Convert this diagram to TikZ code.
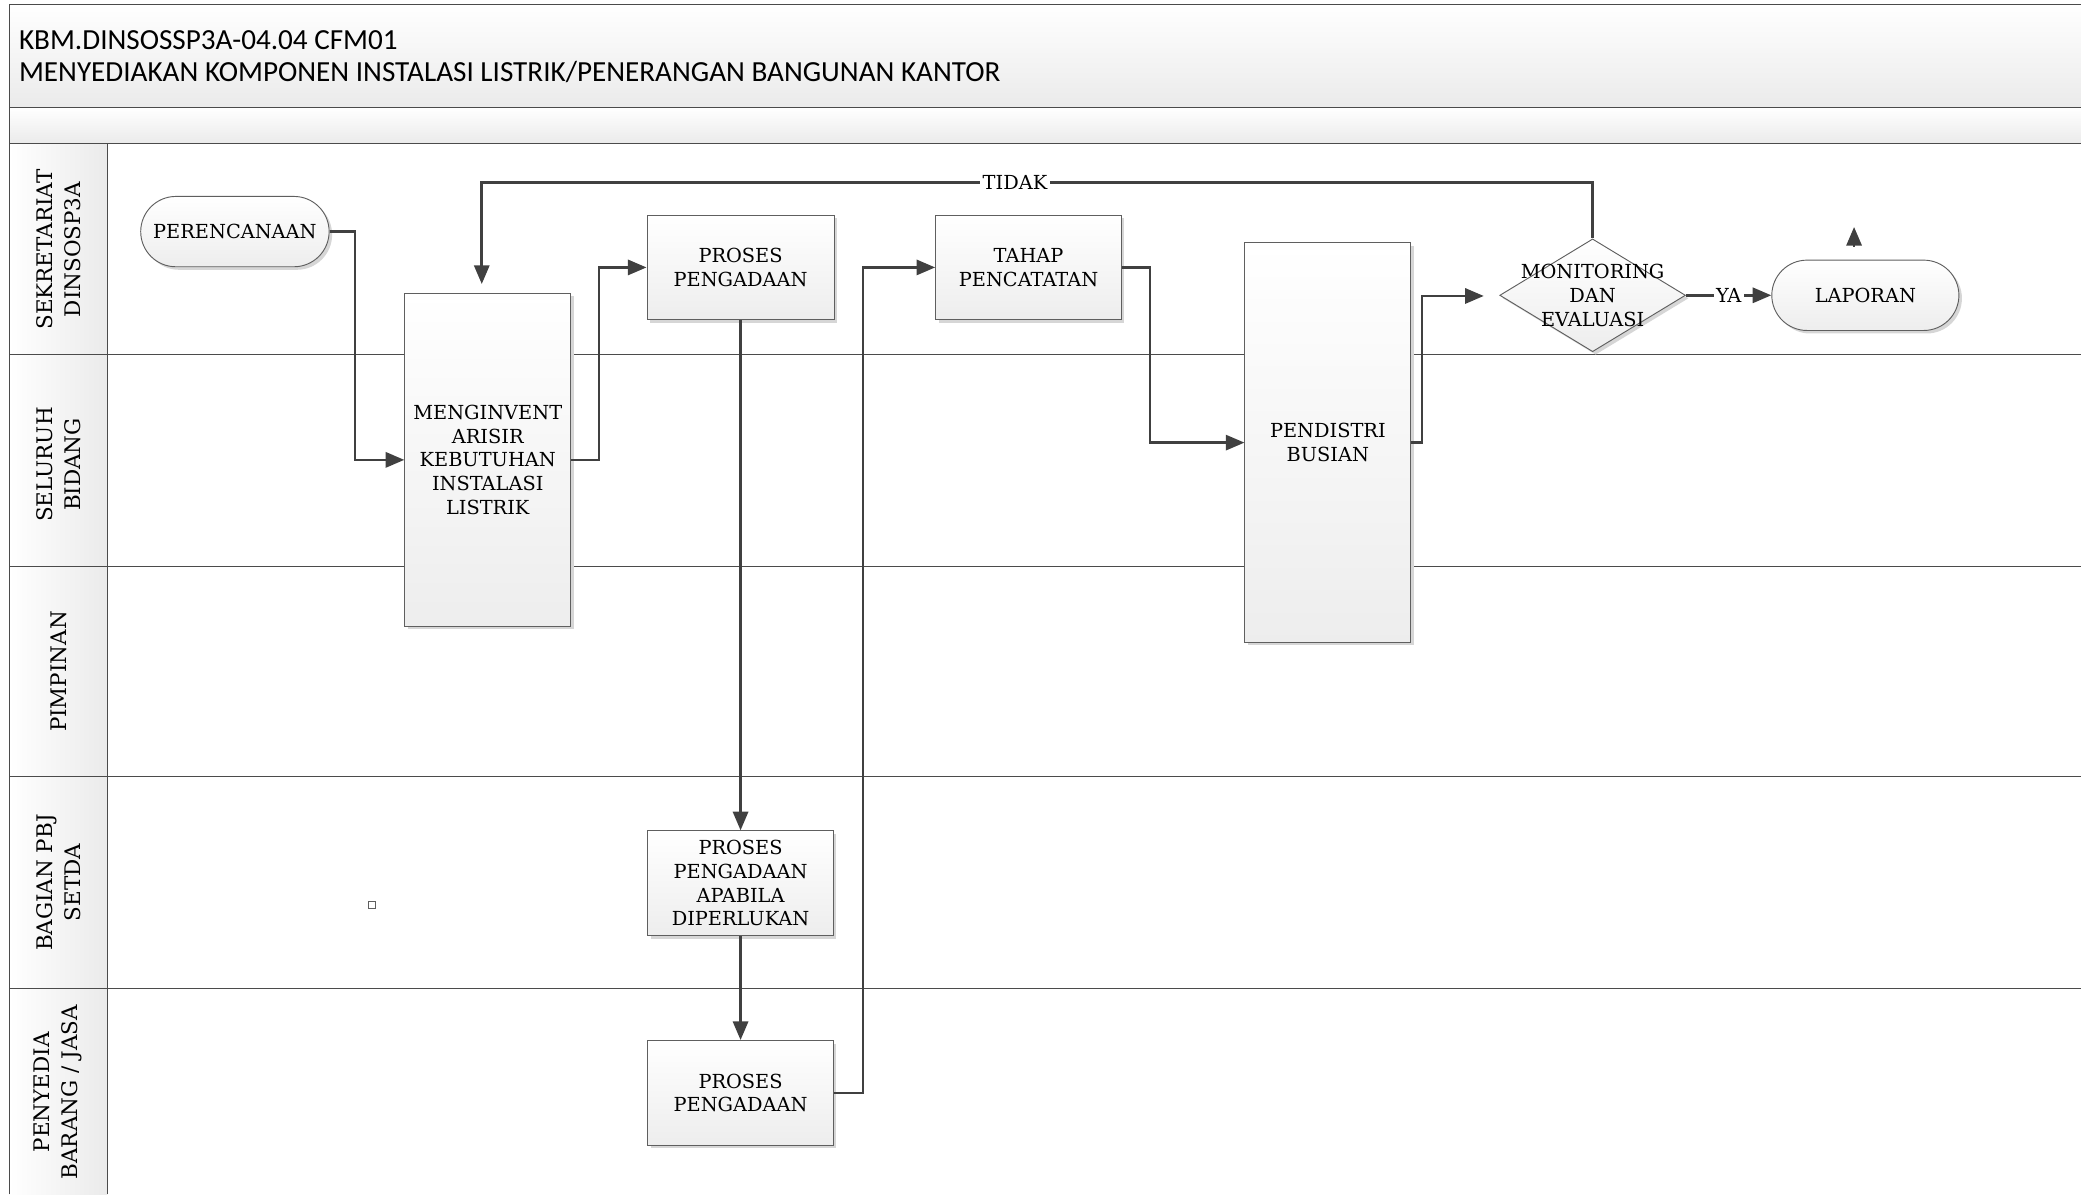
\documentclass[tikz,border=0pt]{standalone}
\usepackage{fontspec}
\setmainfont{DejaVu Serif}
\newfontfamily\titlefont{Carlito}
\usetikzlibrary{arrows.meta,shapes.geometric,shapes.misc,shadows}
\definecolor{flowline}{RGB}{64,64,64}
\definecolor{boxline}{RGB}{95,95,95}
\definecolor{laneline}{RGB}{75,75,75}

\begin{document}
\begin{tikzpicture}[x=0.02cm, y=-0.02cm,
  every node/.style={font=\fontsize{8.3}{10.2}\selectfont},
  proc/.style={draw=boxline, thin, top color=white, bottom color=black!7,
               drop shadow={shadow xshift=1.3pt, shadow yshift=-1.3pt, fill=black!16, opacity=1},
               align=center, inner sep=0pt},
  term/.style={proc, rounded rectangle},
  decision/.style={proc, diamond},
  flow/.style={draw=flowline, line width=1.1pt, -{Triangle[length=8pt,width=6.5pt]}},
  lbl/.style={fill=white, inner sep=1pt},
  lanelbl/.style={rotate=90, align=center, font=\fontsize{9.2}{12}\selectfont},
  headtxt/.style={anchor=west, inner sep=0pt, font=\titlefont\fontsize{12.5}{14}\selectfont}
]
\useasboundingbox (0,0) rectangle (1568,900);

% header and swimlanes
\shade[top color=white, bottom color=black!8] (7,3) rectangle (1568,81);
\shade[top color=white, bottom color=black!8] (7,81) rectangle (1568,108);
\shade[left color=white, right color=black!8] (7,108) rectangle (81,900);
\draw[laneline] (7,900) -- (7,3) -- (1568,3);
\foreach \y in {81,108,267,427,585,745}
  \draw[laneline] (7,\y) -- (1568,\y);
\draw[laneline] (81,108) -- (81,900);

\node[headtxt] (kode) at (14,30) {KBM.DINSOSSP3A-04.04 CFM01};
\node[headtxt] (judul) at (14,54) {MENYEDIAKAN KOMPONEN INSTALASI LISTRIK/PENERANGAN BANGUNAN KANTOR};

\node[lanelbl] (sekre) at (44,188) {SEKRETARIAT\\DINSOSP3A};
\node[lanelbl] (bidang) at (44,350) {SELURUH\\BIDANG};
\node[lanelbl] (pimpin) at (44,506) {PIMPINAN};
\node[lanelbl] (pbjlane) at (44,665) {BAGIAN PBJ\\SETDA};
\node[lanelbl] (penyedia) at (44,823) {PENYEDIA\\BARANG / JASA};

% steps
\node[term, minimum width=2.84cm, minimum height=1.06cm] (perenc) at (177,174.5) {PERENCANAAN};
\node[proc, minimum width=2.5cm, minimum height=5.02cm] (invent) at (367.5,346.5) {MENGINVENT\\ARISIR\\KEBUTUHAN\\INSTALASI\\LISTRIK};
\node[proc, minimum width=2.82cm, minimum height=1.58cm] (pros1) at (558,201.5) {PROSES\\PENGADAAN};
\node[proc, minimum width=2.8cm, minimum height=1.58cm] (tahap) at (775,201.5) {TAHAP\\PENCATATAN};
\node[proc, minimum width=2.5cm, minimum height=6.02cm] (distri) at (1000.5,333.5) {PENDISTRI\\BUSIAN};
\node[decision, minimum width=2.8cm, minimum height=1.7cm,
      label={[align=center]center:MONITORING\\DAN\\EVALUASI}] (monev) at (1200,222.5) {};
\node[term, minimum width=2.82cm, minimum height=1.06cm] (lapor) at (1405.5,222.5) {LAPORAN};
\node[proc, minimum width=2.8cm, minimum height=1.58cm] (pbj) at (558,665.5) {PROSES\\PENGADAAN\\APABILA\\DIPERLUKAN};
\node[proc, minimum width=2.8cm, minimum height=1.58cm] (pros2) at (558,823.5) {PROSES\\PENGADAAN};
\node[draw=boxline, inner sep=0pt, minimum size=3pt] (titik) at (280,682) {};

\coordinate (monin) at (1118,223);
\coordinate (invin) at (363,214);
\coordinate (sisa) at (1397,186);

% connectors
\draw[flow] (perenc.east) -- ++(19,0) |- (invent.west);
\draw[flow] (invent.east) -- ++(21,0) |- (pros1.west);
\draw[flow] (pros1) -- (pbj);
\draw[flow] (pbj) -- (pros2);
\draw[flow] (pros2.east) -- ++(22,0) |- (tahap.west);
\draw[flow] (tahap.east) -- ++(21,0) |- (distri.west);
\draw[flow] (distri.east) -- ++(8,0) |- (monin);
\draw[flow] (monev.north) -- ++(0,-42) coordinate (balik)
  -- node[lbl, pos=.52] {TIDAK} (balik -| invin) -- (invin);
\draw[flow] (monev.east) -- node[lbl] {YA} (lapor.west);
\draw[flow] (sisa) -- ++(0,-15);
\end{tikzpicture}
\end{document}
